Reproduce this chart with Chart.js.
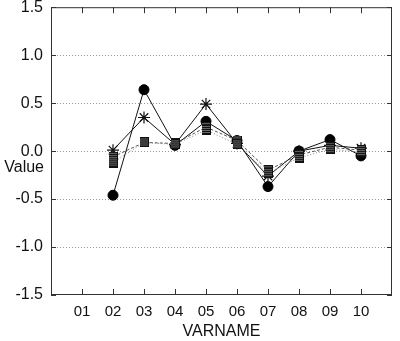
<html>

<head></head>
<script src="https://cdn.jsdelivr.net/npm/chart.js"></script>

<body style="margin:0; background:#fff;">
  <div style="width:400px; height:341px;">
    <canvas id="myChart" width="400" height="341"></canvas>
  </div>
</body>

<script>

  // variables on the x axis (01 has no values)
  const categories = ['01', '02', '03', '04', '05', '06', '07', '08', '09', '10'];
  const yTicks = [-1.5, -1.0, -0.5, 0.0, 0.5, 1.0, 1.5];

  const circleVals = [null, -0.46, 0.64, 0.06, 0.31, 0.11, -0.37, 0.00, 0.12, -0.05];
  const starVals = [null, 0.01, 0.35, 0.07, 0.49, 0.08, -0.26, 0.00, 0.06, 0.03];
  const boxVals1 = [null, -0.06, 0.09, 0.08, 0.25, 0.11, -0.20, -0.04, 0.04, 0.01];
  const boxVals2 = [null, -0.12, 0.09, 0.07, 0.22, 0.07, -0.23, -0.07, 0.02, -0.01];

  // empty slot on each side so 01..10 sit one step in from the frame
  const labels = [''].concat(categories, ['']);
  function pad(arr) { return [null].concat(arr, [null]); }

  // little hatched box used as marker
  function makeBox() {
    var c = document.createElement('canvas');
    c.width = 9; c.height = 10;
    var g = c.getContext('2d');
    g.fillStyle = '#bbb';
    g.fillRect(0, 0, 9, 10);
    g.strokeStyle = '#111';
    g.lineWidth = 1;
    g.strokeRect(0.5, 0.5, 8, 9);
    for (var i = 2; i < 8; i += 2) {
      g.beginPath(); g.moveTo(i + 0.5, 1); g.lineTo(i + 0.5, 9); g.stroke();
    }
    for (var j = 2; j < 9; j += 2) {
      g.beginPath(); g.moveTo(1, j + 0.5); g.lineTo(8, j + 0.5); g.stroke();
    }
    return c;
  }
  const boxImg = makeBox();

  // frame, inward ticks and the horizontal "Value" label
  const framePlugin = {
    id: 'frame',
    afterDraw(chart) {
      const ctx = chart.ctx;
      const a = chart.chartArea;
      const xs = chart.scales.x;
      const ys = chart.scales.y;
      ctx.save();
      ctx.strokeStyle = '#333';
      ctx.lineWidth = 1;
      ctx.strokeRect(a.left + 0.5, a.top + 0.5, a.right - a.left - 1, a.bottom - a.top - 1);
      ctx.beginPath();
      for (let i = 1; i <= categories.length; i++) {
        const px = Math.round(xs.getPixelForValue(i)) + 0.5;
        ctx.moveTo(px, a.bottom); ctx.lineTo(px, a.bottom - 6);
        ctx.moveTo(px, a.top); ctx.lineTo(px, a.top + 6);
      }
      yTicks.forEach(function (v) {
        const py = Math.round(ys.getPixelForValue(v)) + 0.5;
        ctx.moveTo(a.left, py); ctx.lineTo(a.left + 5, py);
        ctx.moveTo(a.right, py); ctx.lineTo(a.right - 5, py);
      });
      ctx.stroke();
      ctx.fillStyle = '#111';
      ctx.font = '16px "Liberation Sans", Arial, sans-serif';
      ctx.textAlign = 'right';
      ctx.textBaseline = 'middle';
      ctx.fillText('Value', a.left - 7, ys.getPixelForValue(0) + 16);
      ctx.restore();
    }
  };

  const data = {
    labels: labels,
    datasets: [
      {
        label: 'box2',
        data: pad(boxVals2),
        borderColor: '#888',
        borderWidth: 1,
        borderDash: [1, 2],
        pointStyle: boxImg
      },
      {
        label: 'box1',
        data: pad(boxVals1),
        borderColor: '#555',
        borderWidth: 1,
        borderDash: [3, 2],
        pointStyle: boxImg
      },
      {
        label: 'star',
        data: pad(starVals),
        borderColor: '#111',
        borderWidth: 1,
        pointStyle: 'star',
        pointRadius: 6,
        pointBorderColor: '#111',
        pointBorderWidth: 1.2
      },
      {
        label: 'circle',
        data: pad(circleVals),
        borderColor: '#111',
        borderWidth: 1,
        pointStyle: 'circle',
        pointRadius: 5,
        pointBackgroundColor: '#000',
        pointBorderColor: '#000'
      }
    ]
  };

  const config = {
    type: 'line',
    data: data,
    options: {
      responsive: false,
      animation: false,
      layout: { padding: { top: 6, right: 1, left: 0, bottom: 0 } },
      plugins: {
        legend: { display: false },
        tooltip: { enabled: false }
      },
      elements: { line: { tension: 0 } },
      scales: {
        x: {
          type: 'category',
          offset: false,
          grid: { display: false, drawTicks: false },
          border: { display: false },
          ticks: {
            color: '#111',
            padding: 8,
            maxRotation: 0,
            autoSkip: false,
            font: { family: '"Liberation Sans", Arial, sans-serif', size: 15 }
          },
          title: {
            display: true,
            text: 'VARNAME',
            color: '#111',
            padding: { top: 0, bottom: 0 },
            font: { family: '"Liberation Sans", Arial, sans-serif', size: 16 }
          },
          afterFit: function (s) { s.height = 46; }
        },
        y: {
          min: -1.5,
          max: 1.5,
          afterBuildTicks: function (s) {
            s.ticks = yTicks.map(function (v) { return { value: v }; });
          },
          grid: {
            drawTicks: false,
            color: function (c) {
              const v = c.tick ? c.tick.value : 0;
              return (Math.abs(v) > 1.4) ? 'rgba(0,0,0,0)' : '#999';
            }
          },
          border: { display: false, dash: [1, 2] },
          ticks: {
            color: '#111',
            padding: 8,
            font: { family: '"Liberation Sans", Arial, sans-serif', size: 16 },
            callback: function (v) { return Number(v).toFixed(1); }
          },
          afterFit: function (s) {
            s.width = 51;
            s.paddingTop = 0;
            s.paddingBottom = 0;
          }
        }
      }
    },
    plugins: [framePlugin]
  };

  const myChart = new Chart(document.getElementById('myChart'), config);
</script>

</html>
